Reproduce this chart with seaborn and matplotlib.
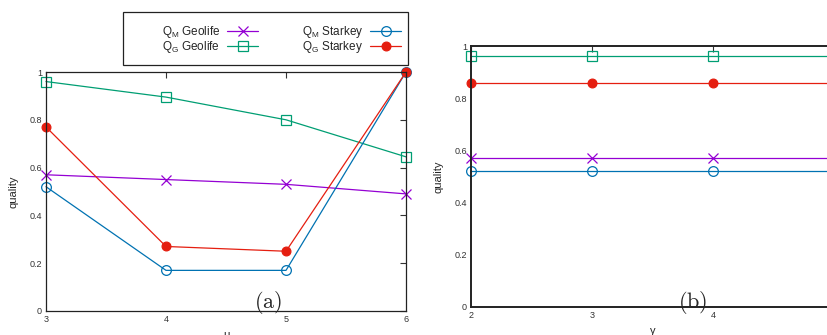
import matplotlib
matplotlib.use("Agg")
import matplotlib.pyplot as plt
import seaborn as sns
import pandas as pd
from matplotlib.patches import Rectangle

sns.set_theme(style="white")
plt.rcParams['font.family'] = ['Liberation Sans', 'DejaVu Sans']
plt.rcParams['mathtext.fontset'] = 'custom'
plt.rcParams['mathtext.rm'] = 'Liberation Sans'
plt.rcParams['mathtext.it'] = 'Liberation Sans:italic'

# Panel (a): quality vs mu
mu = [3, 4, 5, 6]
qm_geolife_a = [0.57, 0.55, 0.53, 0.49]
qg_geolife_a = [0.96, 0.895, 0.80, 0.645]
qm_starkey_a = [0.52, 0.17, 0.17, 1.0]
qg_starkey_a = [0.77, 0.27, 0.25, 1.0]

# Panel (b): quality vs gamma
gamma = [2, 3, 4, 5]
gamma_ticks = [2, 3, 4]
qm_geolife_b = [0.57, 0.57, 0.57, 0.57]
qg_geolife_b = [0.96, 0.96, 0.96, 0.96]
qm_starkey_b = [0.52, 0.52, 0.52, 0.52]
qg_starkey_b = [0.86, 0.86, 0.86, 0.86]

labels = [r"Q$_\mathrm{M}$ Geolife", r"Q$_\mathrm{G}$ Geolife",
          r"Q$_\mathrm{M}$ Starkey", r"Q$_\mathrm{G}$ Starkey"]
colors = ["#9400D3", "#009E73", "#0072B2", "#E51E10"]
markers = ["x", "s", "o", "o"]
msizes = [7, 7, 7, 6.3]
mfcs = ["none", "none", "none", "#E51E10"]

fig = plt.figure(figsize=(8.27, 3.35), dpi=100)
axa = fig.add_axes([46/827, 1-311/335, 360/827, 239/335])
axb = fig.add_axes([471/827, 1-307/335, 363/827, 261/335])

def draw(ax, x, series):
    for ys, lab, c, m, ms, mfc in zip(series, labels, colors, markers, msizes, mfcs):
        df = pd.DataFrame({"x": x, "y": ys})
        sns.lineplot(data=df, x="x", y="y", ax=ax, label=lab, clip_on=False,
                     marker=m, markersize=ms, markeredgewidth=0.9,
                     markeredgecolor=c, markerfacecolor=mfc,
                     color=c, linewidth=0.9)
    ax.get_legend().remove()
    ax.set_ylim(0, 1)
    ax.set_yticks([0, 0.2, 0.4, 0.6, 0.8, 1.0])
    ax.set_yticklabels(["0", "0.2", "0.4", "0.6", "0.8", "1"])
    ax.set_ylabel("quality", fontsize=8, labelpad=8)
    ax.tick_params(direction="in", length=4, width=0.8, labelsize=6.5, colors="#333333",
                   top=True, right=True, pad=3)
    for s in ax.spines.values():
        s.set_color("#222222")

draw(axa, mu, [qm_geolife_a, qg_geolife_a, qm_starkey_a, qg_starkey_a])
axa.set_xlim(3, 6)
axa.set_xticks(mu)
axa.set_xlabel("μ", fontsize=8, labelpad=4)
for s in axa.spines.values():
    s.set_linewidth(0.9)

draw(axb, gamma, [qm_geolife_b, qg_geolife_b, qm_starkey_b, qg_starkey_b])
axb.set_xlim(2, 5)
axb.set_xticks(gamma_ticks)
axb.set_xlabel("γ", fontsize=8, labelpad=4)
for s in axb.spines.values():
    s.set_linewidth(1.4)

fig.text(268/827, 1-302/335, r"$\mathrm{(a)}$", math_fontfamily="cm", fontsize=16,
         ha="center", va="center")
fig.text(693/827, 1-303/335, r"$\mathrm{(b)}$", math_fontfamily="cm", fontsize=16,
         ha="center", va="center")

# legend
fig.add_artist(Rectangle((123/827, 1-65/335), 285/827, 53/335, transform=fig.transFigure,
                         fill=False, edgecolor="#222222", linewidth=0.9))
h, l = axa.get_legend_handles_labels()
leg = fig.legend(h, l, ncol=2, loc="upper left", bbox_to_anchor=(156/827, 1-18/335),
                 frameon=False, markerfirst=False, fontsize=8.5, handlelength=2.6,
                 columnspacing=3.7, labelspacing=-0.1, handletextpad=0.6, borderpad=0)

fig.savefig("out.png", dpi=100)
